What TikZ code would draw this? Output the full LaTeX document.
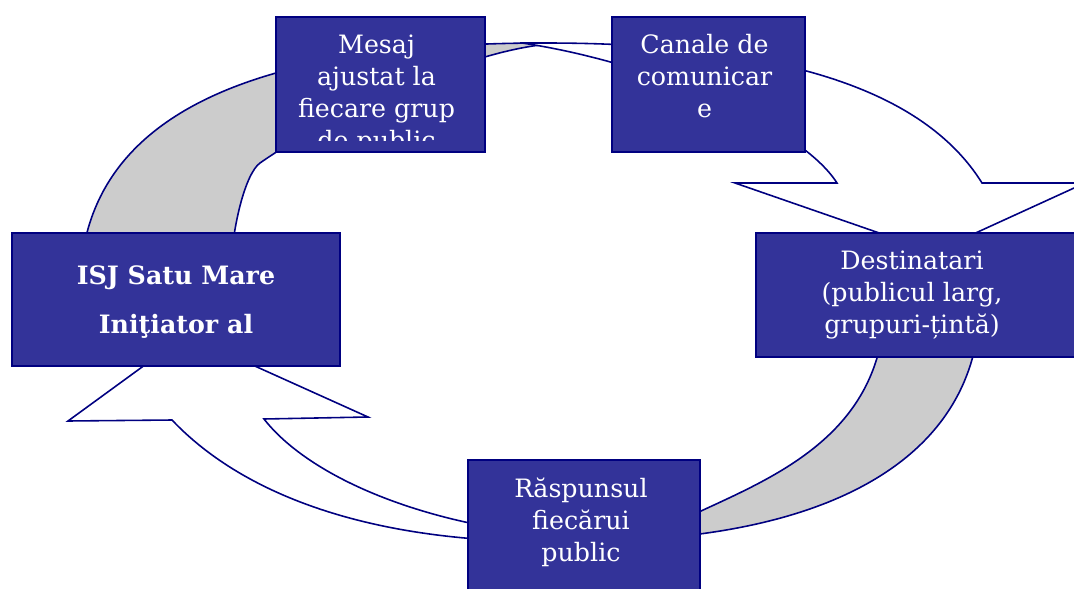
\documentclass[tikz,border=0pt]{standalone}
\usepackage{fontspec}
\setmainfont{DejaVu Serif}
\usepackage{xcolor}
\usetikzlibrary{positioning, calc}
\definecolor{boxblue}{RGB}{51,51,153}
\definecolor{edgenavy}{RGB}{0,0,128}
\definecolor{ribbongray}{RGB}{204,204,204}

\begin{document}
\begin{tikzpicture}[x=0.02cm, y=-0.02cm,
        box/.style={draw=edgenavy, fill=boxblue, line width=0.9pt, inner sep=0pt},
        txt/.style={align=center, text=white, inner sep=0pt, anchor=north,
            font=\fontsize{14.4}{18.2}\selectfont},
        ribbon/.style={draw=edgenavy, line width=0.9pt}]
        \clip (0,0) rectangle (1074,588);

        % upper arrow
        \filldraw[ribbon, fill=ribbongray] (80,290) .. controls (80,124.5) and (233.4,43) .. (545,43)
            -- (540,45) .. controls (460,55) and (330,114) .. (260,163)
            .. controls (246,173) and (231,225) .. (229,290) -- cycle;
        \filldraw[ribbon, fill=white] (520,43) -- (545,43) .. controls (778.7,43) and (923.4,88.8) .. (982,183)
            -- (1085,183) -- (934,252) -- (735,183) -- (837,183)
            .. controls (800,125) and (650,62) .. (522,43) -- cycle;

        % lower arrow
        \filldraw[ribbon, fill=ribbongray] (980,300) .. controls (980,462) and (822,541) .. (585,541)
            .. controls (620,538) and (661,529.5) .. (701,511)
            .. controls (781,474) and (885,430) .. (885,300) -- cycle;
        \filldraw[ribbon, fill=white] (585,541) .. controls (380,548) and (245,497) .. (172,420)
            -- (68,421) -- (186,335) -- (368,417) -- (264,419)
            .. controls (310,478) and (430,530) .. (585,538) -- cycle;

        % boxes
        \node[box, minimum width=4.18cm, minimum height=2.7cm] at (380.5,84.5) (mesaj) {};
        \node[box, minimum width=3.86cm, minimum height=2.7cm] at (708.5,84.5) (canale) {};
        \node[box, minimum width=6.56cm, minimum height=2.66cm] at (176,299.5) (isj) {};
        \node[box, minimum width=6.4cm, minimum height=2.48cm] at (916,295) (dest) {};
        \node[box, minimum width=4.64cm, minimum height=2.8cm] at (584,530) (raspuns) {};

        \begin{scope}
            \clip (mesaj.north west) rectangle ([yshift=0.24cm]mesaj.south east);
            \node[txt] at ([xshift=-0.08cm, yshift=-0.36cm]mesaj.north) (mesajtxt) {Mesaj\\ajustat la\\fiecare grup\\de public};
        \end{scope}
        \node[txt] at ([xshift=-0.08cm, yshift=-0.36cm]canale.north) (canaletxt) {Canale de\\comunicar\\e};
        \node[txt, font=\bfseries\fontsize{14.4}{27.9}\selectfont] at ([yshift=-0.67cm]isj.north) (isjtxt) {ISJ Satu Mare\\Iniţiator al};
        \node[txt] at ([xshift=-0.08cm, yshift=-0.36cm]dest.north) (desttxt) {Destinatari\\(publicul larg,\\grupuri-țintă)};
        \node[txt] at ([xshift=-0.06cm, yshift=-0.36cm]raspuns.north) (raspunstxt) {Răspunsul\\fiecărui\\public};
    \end{tikzpicture}
\end{document}
